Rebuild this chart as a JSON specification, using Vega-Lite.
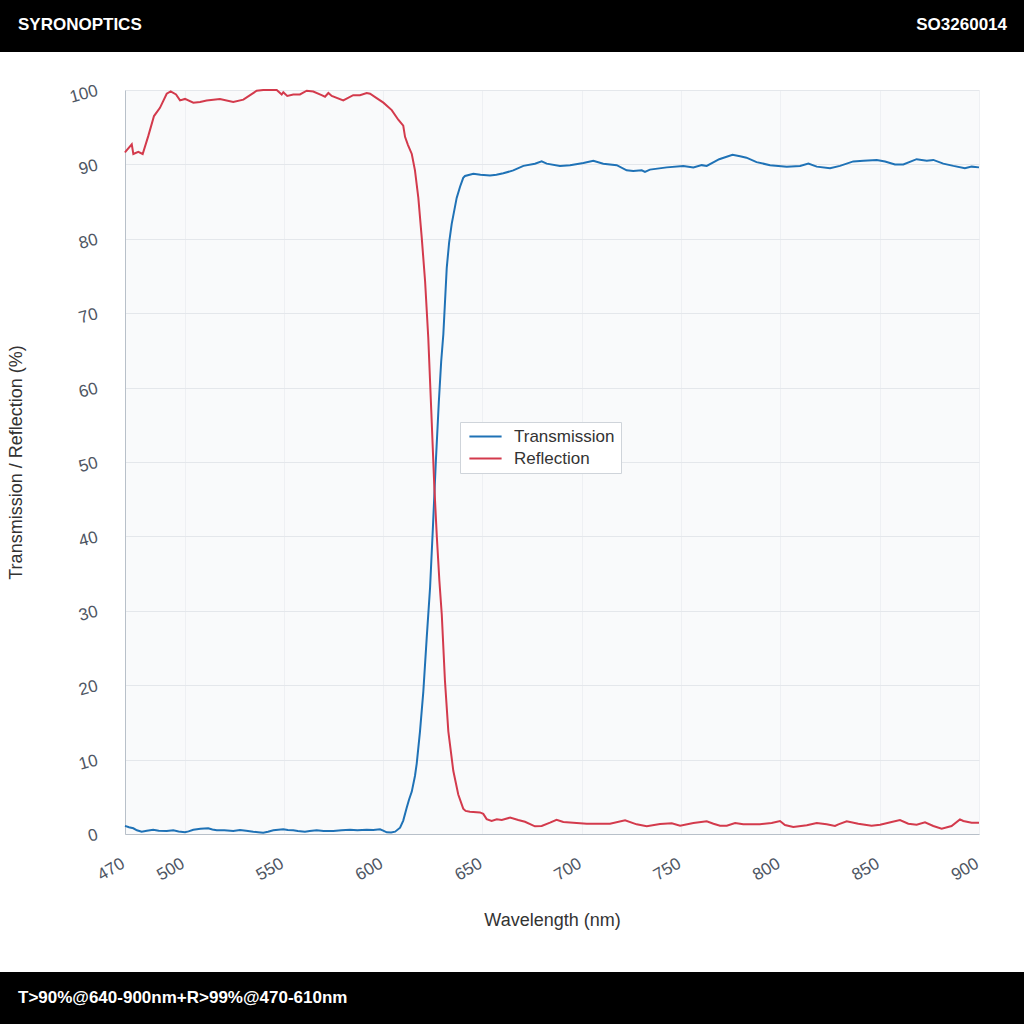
{
  "$schema": "https://vega.github.io/schema/vega-lite/v6.json",
  "padding": 0,
  "spacing": 29,
  "background": "white",
  "config": {
    "font": "Liberation Sans",
    "view": {"stroke": null}
  },
  "vconcat": [
    {
      "width": 1024,
      "height": 52,
      "view": {"fill": "black", "stroke": null},
      "encoding": {
        "x": {
          "field": "label",
          "type": "nominal",
          "scale": {"type": "point", "domain": ["SYRONOPTICS", "SO3260014"], "padding": 0, "align": 0},
          "axis": null
        },
        "text": {"field": "label"}
      },
      "layer": [
        {
          "data": {"values": [{"label": "SYRONOPTICS"}]},
          "mark": {"type": "text", "align": "left", "dx": 18, "dy": -1, "color": "white", "fontSize": 17, "fontWeight": "bold"}
        },
        {
          "data": {"values": [{"label": "SO3260014"}]},
          "mark": {"type": "text", "align": "right", "dx": -17, "dy": -1, "color": "white", "fontSize": 17, "fontWeight": "bold"}
        }
      ]
    },
    {
      "spacing": 0,
      "hconcat": [
        {
          "width": 1,
          "height": 744,
          "data": {"values": [{"t": ""}]},
          "mark": {"type": "text"},
          "encoding": {"text": {"field": "t"}}
        },
        {
          "width": 854,
          "height": 744,
          "view": {"fill": "#f9fafb", "stroke": null},
          "data": {
            "values": [
              {"wl": 470, "value": 1.1, "series": "Transmission"},
              {"wl": 472, "value": 0.9, "series": "Transmission"},
              {"wl": 474.2, "value": 0.77, "series": "Transmission"},
              {"wl": 476, "value": 0.5, "series": "Transmission"},
              {"wl": 478.4, "value": 0.31, "series": "Transmission"},
              {"wl": 481, "value": 0.45, "series": "Transmission"},
              {"wl": 484.2, "value": 0.58, "series": "Transmission"},
              {"wl": 487, "value": 0.45, "series": "Transmission"},
              {"wl": 491, "value": 0.4, "series": "Transmission"},
              {"wl": 494.3, "value": 0.49, "series": "Transmission"},
              {"wl": 497, "value": 0.35, "series": "Transmission"},
              {"wl": 500.2, "value": 0.23, "series": "Transmission"},
              {"wl": 502, "value": 0.35, "series": "Transmission"},
              {"wl": 504.4, "value": 0.58, "series": "Transmission"},
              {"wl": 508, "value": 0.7, "series": "Transmission"},
              {"wl": 511.9, "value": 0.77, "series": "Transmission"},
              {"wl": 514, "value": 0.6, "series": "Transmission"},
              {"wl": 516.2, "value": 0.49, "series": "Transmission"},
              {"wl": 520, "value": 0.5, "series": "Transmission"},
              {"wl": 524.5, "value": 0.4, "series": "Transmission"},
              {"wl": 527.9, "value": 0.54, "series": "Transmission"},
              {"wl": 531, "value": 0.45, "series": "Transmission"},
              {"wl": 534.6, "value": 0.31, "series": "Transmission"},
              {"wl": 537, "value": 0.25, "series": "Transmission"},
              {"wl": 539.6, "value": 0.18, "series": "Transmission"},
              {"wl": 542, "value": 0.3, "series": "Transmission"},
              {"wl": 544.7, "value": 0.49, "series": "Transmission"},
              {"wl": 549.7, "value": 0.63, "series": "Transmission"},
              {"wl": 552, "value": 0.55, "series": "Transmission"},
              {"wl": 554.7, "value": 0.49, "series": "Transmission"},
              {"wl": 557, "value": 0.4, "series": "Transmission"},
              {"wl": 560.6, "value": 0.31, "series": "Transmission"},
              {"wl": 563, "value": 0.4, "series": "Transmission"},
              {"wl": 566.5, "value": 0.49, "series": "Transmission"},
              {"wl": 570, "value": 0.4, "series": "Transmission"},
              {"wl": 574.9, "value": 0.4, "series": "Transmission"},
              {"wl": 579, "value": 0.5, "series": "Transmission"},
              {"wl": 583.3, "value": 0.58, "series": "Transmission"},
              {"wl": 587, "value": 0.5, "series": "Transmission"},
              {"wl": 591.7, "value": 0.58, "series": "Transmission"},
              {"wl": 595, "value": 0.55, "series": "Transmission"},
              {"wl": 598.4, "value": 0.63, "series": "Transmission"},
              {"wl": 600, "value": 0.45, "series": "Transmission"},
              {"wl": 601.8, "value": 0.23, "series": "Transmission"},
              {"wl": 604, "value": 0.2, "series": "Transmission"},
              {"wl": 606, "value": 0.31, "series": "Transmission"},
              {"wl": 608.5, "value": 0.85, "series": "Transmission"},
              {"wl": 610.1, "value": 1.8, "series": "Transmission"},
              {"wl": 611.8, "value": 3.5, "series": "Transmission"},
              {"wl": 613, "value": 4.6, "series": "Transmission"},
              {"wl": 614.4, "value": 5.7, "series": "Transmission"},
              {"wl": 616, "value": 7.8, "series": "Transmission"},
              {"wl": 616.9, "value": 9.5, "series": "Transmission"},
              {"wl": 618.5, "value": 13.7, "series": "Transmission"},
              {"wl": 620.2, "value": 19.1, "series": "Transmission"},
              {"wl": 621.9, "value": 26.3, "series": "Transmission"},
              {"wl": 623.6, "value": 33.1, "series": "Transmission"},
              {"wl": 625, "value": 41, "series": "Transmission"},
              {"wl": 626.5, "value": 50, "series": "Transmission"},
              {"wl": 628, "value": 58, "series": "Transmission"},
              {"wl": 629.2, "value": 63.5, "series": "Transmission"},
              {"wl": 630.3, "value": 67.2, "series": "Transmission"},
              {"wl": 632, "value": 76.1, "series": "Transmission"},
              {"wl": 633.2, "value": 79.5, "series": "Transmission"},
              {"wl": 634.5, "value": 82, "series": "Transmission"},
              {"wl": 637, "value": 85.5, "series": "Transmission"},
              {"wl": 638.7, "value": 87, "series": "Transmission"},
              {"wl": 640.3, "value": 88.2, "series": "Transmission"},
              {"wl": 641.2, "value": 88.44, "series": "Transmission"},
              {"wl": 645.4, "value": 88.75, "series": "Transmission"},
              {"wl": 649, "value": 88.6, "series": "Transmission"},
              {"wl": 653.8, "value": 88.5, "series": "Transmission"},
              {"wl": 657, "value": 88.6, "series": "Transmission"},
              {"wl": 660.5, "value": 88.8, "series": "Transmission"},
              {"wl": 665.5, "value": 89.2, "series": "Transmission"},
              {"wl": 670.6, "value": 89.8, "series": "Transmission"},
              {"wl": 676.4, "value": 90.1, "series": "Transmission"},
              {"wl": 679.8, "value": 90.4, "series": "Transmission"},
              {"wl": 682.3, "value": 90.1, "series": "Transmission"},
              {"wl": 689, "value": 89.8, "series": "Transmission"},
              {"wl": 694.1, "value": 89.9, "series": "Transmission"},
              {"wl": 700.8, "value": 90.2, "series": "Transmission"},
              {"wl": 705.8, "value": 90.5, "series": "Transmission"},
              {"wl": 710.8, "value": 90.1, "series": "Transmission"},
              {"wl": 717.6, "value": 89.9, "series": "Transmission"},
              {"wl": 722.6, "value": 89.2, "series": "Transmission"},
              {"wl": 725.9, "value": 89.1, "series": "Transmission"},
              {"wl": 730.2, "value": 89.2, "series": "Transmission"},
              {"wl": 731.8, "value": 89, "series": "Transmission"},
              {"wl": 734.3, "value": 89.3, "series": "Transmission"},
              {"wl": 742.8, "value": 89.6, "series": "Transmission"},
              {"wl": 751.1, "value": 89.8, "series": "Transmission"},
              {"wl": 756.2, "value": 89.6, "series": "Transmission"},
              {"wl": 760.4, "value": 89.9, "series": "Transmission"},
              {"wl": 762.9, "value": 89.8, "series": "Transmission"},
              {"wl": 769.2, "value": 90.7, "series": "Transmission"},
              {"wl": 775.9, "value": 91.3, "series": "Transmission"},
              {"wl": 779.7, "value": 91.1, "series": "Transmission"},
              {"wl": 782.9, "value": 90.9, "series": "Transmission"},
              {"wl": 788, "value": 90.3, "series": "Transmission"},
              {"wl": 794.8, "value": 89.9, "series": "Transmission"},
              {"wl": 803.2, "value": 89.7, "series": "Transmission"},
              {"wl": 809.9, "value": 89.8, "series": "Transmission"},
              {"wl": 814.1, "value": 90.1, "series": "Transmission"},
              {"wl": 818.3, "value": 89.7, "series": "Transmission"},
              {"wl": 825, "value": 89.5, "series": "Transmission"},
              {"wl": 830, "value": 89.8, "series": "Transmission"},
              {"wl": 836.7, "value": 90.4, "series": "Transmission"},
              {"wl": 841.8, "value": 90.5, "series": "Transmission"},
              {"wl": 848.5, "value": 90.6, "series": "Transmission"},
              {"wl": 852.7, "value": 90.4, "series": "Transmission"},
              {"wl": 857.7, "value": 90, "series": "Transmission"},
              {"wl": 861.9, "value": 90, "series": "Transmission"},
              {"wl": 868.6, "value": 90.7, "series": "Transmission"},
              {"wl": 873.7, "value": 90.5, "series": "Transmission"},
              {"wl": 877, "value": 90.6, "series": "Transmission"},
              {"wl": 882, "value": 90.1, "series": "Transmission"},
              {"wl": 887.1, "value": 89.8, "series": "Transmission"},
              {"wl": 892.9, "value": 89.5, "series": "Transmission"},
              {"wl": 896.3, "value": 89.7, "series": "Transmission"},
              {"wl": 900, "value": 89.6, "series": "Transmission"},
              {"wl": 470, "value": 91.6, "series": "Reflection"},
              {"wl": 470.5, "value": 91.8, "series": "Reflection"},
              {"wl": 473.4, "value": 92.7, "series": "Reflection"},
              {"wl": 474.2, "value": 91.4, "series": "Reflection"},
              {"wl": 476.7, "value": 91.7, "series": "Reflection"},
              {"wl": 478.9, "value": 91.4, "series": "Reflection"},
              {"wl": 481.7, "value": 93.8, "series": "Reflection"},
              {"wl": 484.6, "value": 96.5, "series": "Reflection"},
              {"wl": 487.6, "value": 97.6, "series": "Reflection"},
              {"wl": 491, "value": 99.5, "series": "Reflection"},
              {"wl": 493, "value": 99.8, "series": "Reflection"},
              {"wl": 495.7, "value": 99.4, "series": "Reflection"},
              {"wl": 497.7, "value": 98.6, "series": "Reflection"},
              {"wl": 500.2, "value": 98.8, "series": "Reflection"},
              {"wl": 504.4, "value": 98.3, "series": "Reflection"},
              {"wl": 507.8, "value": 98.4, "series": "Reflection"},
              {"wl": 511.1, "value": 98.6, "series": "Reflection"},
              {"wl": 517.8, "value": 98.8, "series": "Reflection"},
              {"wl": 524.5, "value": 98.4, "series": "Reflection"},
              {"wl": 529.6, "value": 98.7, "series": "Reflection"},
              {"wl": 536.3, "value": 99.9, "series": "Reflection"},
              {"wl": 539.6, "value": 100, "series": "Reflection"},
              {"wl": 546.4, "value": 100, "series": "Reflection"},
              {"wl": 548.9, "value": 99.4, "series": "Reflection"},
              {"wl": 549.7, "value": 99.7, "series": "Reflection"},
              {"wl": 551.7, "value": 99.2, "series": "Reflection"},
              {"wl": 554.7, "value": 99.4, "series": "Reflection"},
              {"wl": 558.1, "value": 99.4, "series": "Reflection"},
              {"wl": 561.5, "value": 99.9, "series": "Reflection"},
              {"wl": 564.8, "value": 99.8, "series": "Reflection"},
              {"wl": 569, "value": 99.3, "series": "Reflection"},
              {"wl": 570.7, "value": 99.1, "series": "Reflection"},
              {"wl": 572.4, "value": 99.6, "series": "Reflection"},
              {"wl": 574.1, "value": 99.2, "series": "Reflection"},
              {"wl": 579.9, "value": 98.6, "series": "Reflection"},
              {"wl": 584.9, "value": 99.3, "series": "Reflection"},
              {"wl": 588.3, "value": 99.3, "series": "Reflection"},
              {"wl": 591.7, "value": 99.6, "series": "Reflection"},
              {"wl": 593.4, "value": 99.5, "series": "Reflection"},
              {"wl": 596.7, "value": 98.9, "series": "Reflection"},
              {"wl": 600.1, "value": 98.3, "series": "Reflection"},
              {"wl": 604.3, "value": 97.3, "series": "Reflection"},
              {"wl": 607.6, "value": 96, "series": "Reflection"},
              {"wl": 610.1, "value": 95.2, "series": "Reflection"},
              {"wl": 611, "value": 93.7, "series": "Reflection"},
              {"wl": 612.5, "value": 92.6, "series": "Reflection"},
              {"wl": 614.4, "value": 91.4, "series": "Reflection"},
              {"wl": 616, "value": 89.2, "series": "Reflection"},
              {"wl": 617.7, "value": 85.5, "series": "Reflection"},
              {"wl": 619.4, "value": 80.2, "series": "Reflection"},
              {"wl": 621.1, "value": 74.3, "series": "Reflection"},
              {"wl": 622.7, "value": 66.7, "series": "Reflection"},
              {"wl": 624.2, "value": 57, "series": "Reflection"},
              {"wl": 625.7, "value": 47, "series": "Reflection"},
              {"wl": 627, "value": 40, "series": "Reflection"},
              {"wl": 628.3, "value": 34, "series": "Reflection"},
              {"wl": 629.5, "value": 29.5, "series": "Reflection"},
              {"wl": 631.1, "value": 20.6, "series": "Reflection"},
              {"wl": 632.8, "value": 13.8, "series": "Reflection"},
              {"wl": 635.3, "value": 8.5, "series": "Reflection"},
              {"wl": 637.8, "value": 5.3, "series": "Reflection"},
              {"wl": 640.3, "value": 3.4, "series": "Reflection"},
              {"wl": 641.5, "value": 3.1, "series": "Reflection"},
              {"wl": 643.7, "value": 3, "series": "Reflection"},
              {"wl": 648.7, "value": 2.9, "series": "Reflection"},
              {"wl": 650.4, "value": 2.7, "series": "Reflection"},
              {"wl": 652.1, "value": 2, "series": "Reflection"},
              {"wl": 654.6, "value": 1.75, "series": "Reflection"},
              {"wl": 657.2, "value": 1.97, "series": "Reflection"},
              {"wl": 659.7, "value": 1.88, "series": "Reflection"},
              {"wl": 663.9, "value": 2.2, "series": "Reflection"},
              {"wl": 668, "value": 1.88, "series": "Reflection"},
              {"wl": 671.4, "value": 1.65, "series": "Reflection"},
              {"wl": 676.4, "value": 1.03, "series": "Reflection"},
              {"wl": 679.8, "value": 1.08, "series": "Reflection"},
              {"wl": 684, "value": 1.52, "series": "Reflection"},
              {"wl": 687.3, "value": 1.92, "series": "Reflection"},
              {"wl": 690.7, "value": 1.61, "series": "Reflection"},
              {"wl": 697.4, "value": 1.48, "series": "Reflection"},
              {"wl": 702.5, "value": 1.38, "series": "Reflection"},
              {"wl": 707.5, "value": 1.38, "series": "Reflection"},
              {"wl": 714.2, "value": 1.38, "series": "Reflection"},
              {"wl": 721.8, "value": 1.84, "series": "Reflection"},
              {"wl": 727.6, "value": 1.3, "series": "Reflection"},
              {"wl": 732.7, "value": 1.03, "series": "Reflection"},
              {"wl": 739.4, "value": 1.34, "series": "Reflection"},
              {"wl": 745.3, "value": 1.44, "series": "Reflection"},
              {"wl": 749.5, "value": 1.12, "series": "Reflection"},
              {"wl": 756.2, "value": 1.48, "series": "Reflection"},
              {"wl": 762.9, "value": 1.71, "series": "Reflection"},
              {"wl": 766.3, "value": 1.38, "series": "Reflection"},
              {"wl": 769.6, "value": 1.12, "series": "Reflection"},
              {"wl": 773, "value": 1.12, "series": "Reflection"},
              {"wl": 777.2, "value": 1.48, "series": "Reflection"},
              {"wl": 781.3, "value": 1.3, "series": "Reflection"},
              {"wl": 789.7, "value": 1.3, "series": "Reflection"},
              {"wl": 795.6, "value": 1.48, "series": "Reflection"},
              {"wl": 799.8, "value": 1.75, "series": "Reflection"},
              {"wl": 802.3, "value": 1.21, "series": "Reflection"},
              {"wl": 806.5, "value": 0.94, "series": "Reflection"},
              {"wl": 813.3, "value": 1.17, "series": "Reflection"},
              {"wl": 818.3, "value": 1.48, "series": "Reflection"},
              {"wl": 823.3, "value": 1.3, "series": "Reflection"},
              {"wl": 827.5, "value": 1.08, "series": "Reflection"},
              {"wl": 829.2, "value": 1.3, "series": "Reflection"},
              {"wl": 833.4, "value": 1.7, "series": "Reflection"},
              {"wl": 839.2, "value": 1.38, "series": "Reflection"},
              {"wl": 845.9, "value": 1.12, "series": "Reflection"},
              {"wl": 850.2, "value": 1.25, "series": "Reflection"},
              {"wl": 856, "value": 1.61, "series": "Reflection"},
              {"wl": 860.2, "value": 1.88, "series": "Reflection"},
              {"wl": 864.4, "value": 1.38, "series": "Reflection"},
              {"wl": 868.6, "value": 1.25, "series": "Reflection"},
              {"wl": 872.8, "value": 1.57, "series": "Reflection"},
              {"wl": 877, "value": 1.08, "series": "Reflection"},
              {"wl": 881.2, "value": 0.72, "series": "Reflection"},
              {"wl": 886.2, "value": 1.08, "series": "Reflection"},
              {"wl": 890.4, "value": 1.97, "series": "Reflection"},
              {"wl": 892.1, "value": 1.75, "series": "Reflection"},
              {"wl": 896.3, "value": 1.52, "series": "Reflection"},
              {"wl": 900, "value": 1.5, "series": "Reflection"}
            ]
          },
          "mark": {"type": "line", "strokeWidth": 2},
          "encoding": {
            "x": {
              "field": "wl",
              "type": "quantitative",
              "scale": {"domain": [470, 900], "nice": false, "zero": false},
              "axis": {
                "title": "Wavelength (nm)",
                "values": [470, 500, 550, 600, 650, 700, 750, 800, 850, 900],
                "labelAngle": -30,
                "labelAlign": "right",
                "labelBaseline": "top",
                "labelFlush": false,
                "labelOffset": -6,
                "labelFontSize": 17,
                "labelColor": "#4e5663",
                "tickSize": 109,
                "tickOpacity": 0,
                "labelPadding": -88,
                "titlePadding": -32,
                "titleFontSize": 18,
                "titleFontWeight": "normal",
                "titleColor": "#333333",
                "domainColor": "#b8c0c9",
                "gridColor": "#eef0f3"
              }
            },
            "y": {
              "field": "value",
              "type": "quantitative",
              "scale": {"domain": [0, 100], "nice": false},
              "axis": {
                "title": "Transmission / Reflection (%)",
                "values": [0, 10, 20, 30, 40, 50, 60, 70, 80, 90, 100],
                "labelAngle": -15,
                "labelAlign": "right",
                "labelBaseline": "middle",
                "labelFontSize": 17,
                "labelColor": "#4e5663",
                "tickSize": 124,
                "tickOpacity": 0,
                "labelPadding": -96,
                "titlePadding": -24,
                "titleFontSize": 18,
                "titleFontWeight": "normal",
                "titleColor": "#333333",
                "domainColor": "#b8c0c9",
                "gridColor": "#e4e7eb"
              }
            },
            "color": {
              "field": "series",
              "type": "nominal",
              "scale": {"domain": ["Transmission", "Reflection"], "range": ["#1f72b6", "#d33a4c"]},
              "legend": {
                "title": null,
                "orient": "none",
                "legendX": 460,
                "legendY": 422,
                "fillColor": "white",
                "strokeColor": "#cfd4da",
                "padding": 6,
                "symbolType": "M-2.3,0H2.3",
                "symbolSize": 196,
                "symbolStrokeWidth": 2,
                "symbolOffset": 11,
                "labelFontSize": 17,
                "labelColor": "#333333",
                "labelOffset": 20,
                "rowPadding": 4
              }
            }
          }
        }
      ]
    },
    {
      "width": 1024,
      "height": 53,
      "view": {"fill": "black", "stroke": null},
      "data": {"values": [{"label": "T>90%@640-900nm+R>99%@470-610nm"}]},
      "mark": {"type": "text", "align": "left", "dx": 18, "dy": -1, "color": "white", "fontSize": 17, "fontWeight": "bold"},
      "encoding": {
        "x": {
          "field": "label",
          "type": "nominal",
          "scale": {"type": "point", "padding": 0, "align": 0},
          "axis": null
        },
        "text": {"field": "label"}
      }
    }
  ]
}
